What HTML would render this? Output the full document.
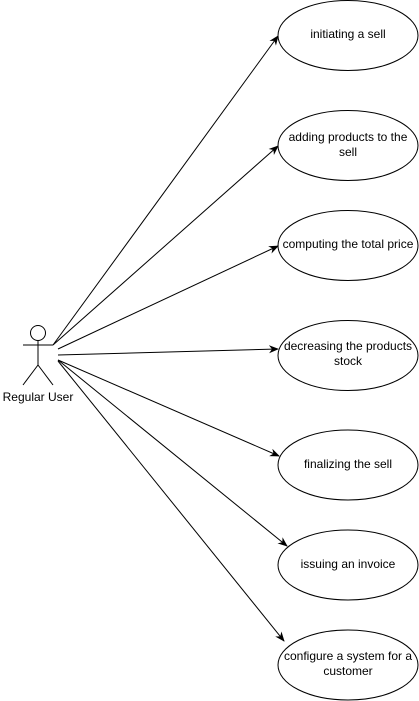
<!DOCTYPE html>
<html><head><style>body{margin:0;background:#fff}svg{display:block}</style></head>
<body>
<svg width="419" height="701" xmlns="http://www.w3.org/2000/svg" font-family="Liberation Sans, Arial, sans-serif" font-size="12">
<defs><marker id="a" markerWidth="10" markerHeight="10" refX="9" refY="5" orient="auto" markerUnits="userSpaceOnUse"><path d="M0,1 L10,5 L0,9 L3,5 Z" fill="#000"/></marker></defs>
<g fill="#fff" stroke="#000" stroke-width="1">
<ellipse cx="348" cy="35.5" rx="70" ry="35"/>
<ellipse cx="348" cy="145.5" rx="70" ry="35"/>
<ellipse cx="348" cy="245.5" rx="70" ry="35"/>
<ellipse cx="348" cy="355.5" rx="70" ry="35"/>
<ellipse cx="348" cy="465" rx="70" ry="35"/>
<ellipse cx="348" cy="565" rx="70" ry="35"/>
<ellipse cx="348" cy="665" rx="70" ry="35"/>
<circle cx="38" cy="333" r="7.5"/>
</g>
<g stroke="#000" stroke-width="1" fill="none">
<line x1="23" y1="345" x2="53" y2="345"/>
<line x1="38" y1="340.5" x2="38" y2="365"/>
<line x1="38" y1="365" x2="23" y2="385"/>
<line x1="38" y1="365" x2="53" y2="385"/>
<line x1="53" y1="345" x2="278" y2="36" marker-end="url(#a)"/>
<line x1="53" y1="345" x2="278" y2="146" marker-end="url(#a)"/>
<line x1="58" y1="349" x2="278" y2="246" marker-end="url(#a)"/>
<line x1="58" y1="355" x2="278" y2="349" marker-end="url(#a)"/>
<line x1="58" y1="360" x2="279" y2="456" marker-end="url(#a)"/>
<line x1="58" y1="360" x2="287" y2="546" marker-end="url(#a)"/>
<line x1="58" y1="361" x2="284" y2="641" marker-end="url(#a)"/>
</g>
<g text-anchor="middle" fill="#000">
<text x="348" y="38">initiating a sell</text>
<text x="348" y="141">adding products to the</text>
<text x="348" y="156">sell</text>
<text x="348" y="248">computing the total price</text>
<text x="348" y="350">decreasing the products</text>
<text x="348" y="365">stock</text>
<text x="348" y="468">finalizing the sell</text>
<text x="348" y="568">issuing an invoice</text>
<text x="348" y="660">configure a system for a</text>
<text x="348" y="675">customer</text>
<text x="38" y="401">Regular User</text>
</g>
</svg>
</body></html>
